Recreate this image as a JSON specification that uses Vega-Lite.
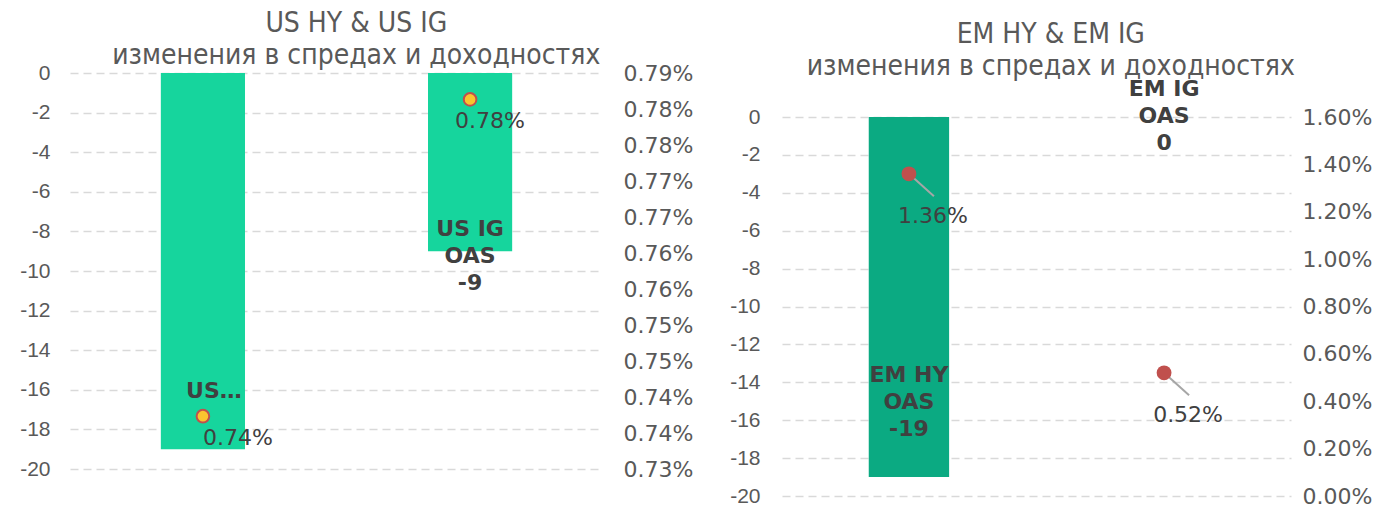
{
  "$schema": "https://vega.github.io/schema/vega-lite/v6.json",
  "background": "white",
  "padding": {"left": 19, "top": 10, "right": 5, "bottom": 0},
  "bounds": "flush",
  "spacing": 179,
  "config": {
    "view": {"stroke": null},
    "title": {"font": "Liberation Sans Narrow, DejaVu Sans Condensed, sans-serif", "fontSize": 28, "fontWeight": "normal", "color": "#595959", "anchor": "middle", "frame": "bounds", "lineHeight": 32}
  },
  "hconcat": [
    {
      "width": 533,
      "height": 396,
      "title": {"text": ["US HY & US IG", "изменения в спредах и доходностях"], "offset": -8},
      "data": {"values": [
        {"cat": "US HY", "oas": -19, "yld": 0.738, "yldLabel": "0.74%", "label": ["US…"]},
        {"cat": "US IG", "oas": -9, "yld": 0.786, "yldLabel": "0.78%", "label": ["US IG", "OAS", "-9"]}
      ]},
      "encoding": {"x": {"field": "cat", "type": "nominal", "sort": null, "axis": null, "scale": {"paddingInner": 0.685, "paddingOuter": 0.34}}},
      "layer": [
        {
          "encoding": {"y": {"field": "oas", "type": "quantitative", "scale": {"domain": [-20, 0], "nice": false},
            "axis": {"values": [0, -2, -4, -6, -8, -10, -12, -14, -16, -18, -20], "labelExpr": "toString(datum.value)", "grid": true, "gridDash": [8, 5], "gridColor": "#D9D9D9", "gridWidth": 1.5, "domain": false, "ticks": false, "labelFont": "Liberation Sans, Arial, sans-serif", "labelFontSize": 21, "labelColor": "#595959", "labelPadding": 20, "title": null}}},
          "layer": [
            {"mark": {"type": "bar", "color": "#16D59D"}},
            {"transform": [{"filter": "datum.cat === 'US HY'"}], "mark": {"type": "text", "font": "DejaVu Sans", "fontWeight": "bold", "fontSize": 22, "color": "#404040", "baseline": "middle", "lineHeight": 27, "dy": -58, "dx": 11}, "encoding": {"text": {"field": "label"}}},
            {"transform": [{"filter": "datum.cat === 'US IG'"}], "mark": {"type": "text", "font": "DejaVu Sans", "fontWeight": "bold", "fontSize": 22, "color": "#404040", "baseline": "middle", "lineHeight": 27, "dy": -22}, "encoding": {"text": {"field": "label"}}}
          ]
        },
        {
          "encoding": {"y": {"field": "yld", "type": "quantitative", "scale": {"domain": [0.73, 0.79], "nice": false, "zero": false},
            "axis": {"orient": "right", "values": [0.73, 0.735454545, 0.740909091, 0.746363636, 0.751818182, 0.757272727, 0.762727273, 0.768181818, 0.773636364, 0.779090909, 0.784545455, 0.79], "labelExpr": "format(datum.value, '.2f') + '%'", "grid": false, "domain": false, "ticks": false, "labelFont": "DejaVu Sans", "labelFontSize": 22, "labelColor": "#595959", "labelPadding": 20, "title": null}}},
          "layer": [
            {"mark": {"type": "point", "filled": true, "shape": "circle", "size": 160, "fill": "#FBC42F", "stroke": "#C0504D", "strokeWidth": 2, "opacity": 1}},
            {"transform": [{"filter": "datum.cat === 'US HY'"}], "mark": {"type": "text", "font": "DejaVu Sans", "fontSize": 22, "color": "#404040", "align": "left", "baseline": "middle", "dx": 0, "dy": 22}, "encoding": {"text": {"field": "yldLabel"}}},
            {"transform": [{"filter": "datum.cat === 'US IG'"}], "mark": {"type": "text", "font": "DejaVu Sans", "fontSize": 22, "color": "#404040", "align": "left", "baseline": "middle", "dx": -15, "dy": 22}, "encoding": {"text": {"field": "yldLabel"}}}
          ]
        }
      ],
      "resolve": {"scale": {"y": "independent"}, "axis": {"y": "independent"}}
    },
    {
      "width": 509,
      "height": 423,
      "title": {"text": ["EM HY & EM IG", "изменения в спредах и доходностях"], "offset": -8},
      "data": {"values": [
        {"cat": "EM HY", "oas": -19, "yld": 1.36, "yldLabel": "1.36%", "label": ["EM HY", "OAS", "-19"]},
        {"cat": "EM IG", "oas": 0, "yld": 0.52, "yldLabel": "0.52%", "label": ["EM IG", "OAS", "0"]}
      ]},
      "encoding": {"x": {"field": "cat", "type": "nominal", "sort": null, "axis": null, "scale": {"paddingInner": 0.685, "paddingOuter": 0.34}}},
      "layer": [
        {
          "encoding": {"y": {"field": "oas", "type": "quantitative", "scale": {"domain": [-20, 0], "nice": false, "range": [423, 44]},
            "axis": {"values": [0, -2, -4, -6, -8, -10, -12, -14, -16, -18, -20], "labelExpr": "toString(datum.value)", "grid": true, "gridDash": [8, 5], "gridColor": "#D9D9D9", "gridWidth": 1.5, "domain": false, "ticks": false, "labelFont": "Liberation Sans, Arial, sans-serif", "labelFontSize": 21, "labelColor": "#595959", "labelPadding": 22, "title": null}}},
          "layer": [
            {"mark": {"type": "bar", "color": "#0BAA82"}},
            {"transform": [{"filter": "datum.cat === 'EM HY'"}], "mark": {"type": "text", "font": "DejaVu Sans", "fontWeight": "bold", "fontSize": 22, "color": "#404040", "baseline": "middle", "lineHeight": 27, "dy": -102}, "encoding": {"text": {"field": "label"}}},
            {"transform": [{"filter": "datum.cat === 'EM IG'"}], "mark": {"type": "text", "font": "DejaVu Sans", "fontWeight": "bold", "fontSize": 22, "color": "#404040", "baseline": "middle", "lineHeight": 27, "dy": -28}, "encoding": {"text": {"field": "label"}}}
          ]
        },
        {
          "encoding": {"y": {"field": "yld", "type": "quantitative", "scale": {"domain": [0, 1.6], "nice": false, "range": [423, 44]},
            "axis": {"orient": "right", "values": [0, 0.2, 0.4, 0.6, 0.8, 1.0, 1.2, 1.4, 1.6], "labelExpr": "format(datum.value, '.2f') + '%'", "grid": false, "domain": false, "ticks": false, "labelFont": "DejaVu Sans", "labelFontSize": 22, "labelColor": "#595959", "labelPadding": 11, "title": null}}},
          "layer": [
            {"mark": {"type": "point", "filled": false, "shape": "M0,0L1,0.9", "size": 2500, "stroke": "#A6A6A6", "strokeWidth": 2, "opacity": 1}},
            {"mark": {"type": "point", "filled": true, "shape": "circle", "size": 220, "fill": "#C0504D", "stroke": null, "opacity": 1}},
            {"mark": {"type": "text", "font": "DejaVu Sans", "fontSize": 22, "color": "#404040", "align": "center", "baseline": "middle", "dx": 24, "dy": 42}, "encoding": {"text": {"field": "yldLabel"}}}
          ]
        }
      ],
      "resolve": {"scale": {"y": "independent"}, "axis": {"y": "independent"}}
    }
  ]
}
